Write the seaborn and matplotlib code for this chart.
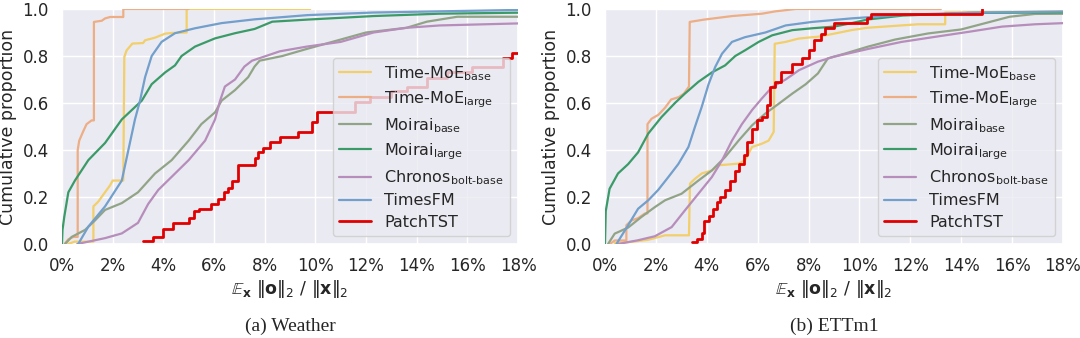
import matplotlib
matplotlib.use("Agg")
import matplotlib.pyplot as plt
import seaborn as sns
import pandas as pd

# ---------------- data (x in %, y = cumulative proportion) ----------------
models = ["Time-MoE$_\\mathrm{base}$", "Time-MoE$_\\mathrm{large}$", "Moirai$_\\mathrm{base}$",
          "Moirai$_\\mathrm{large}$", "Chronos$_\\mathrm{bolt‐base}$", "TimesFM", "PatchTST"]
colors = ["#F2CF6A", "#EDAE85", "#92A487", "#3B9B68", "#B68DBB", "#729FCB", "#E00000"]

x_ticks = [0, 2, 4, 6, 8, 10, 12, 14, 16, 18]
x_tick_labels = ["0%", "2%", "4%", "6%", "8%", "10%", "12%", "14%", "16%", "18%"]
y_ticks = [0.0, 0.2, 0.4, 0.6, 0.8, 1.0]
panel_titles = ["(a) Weather", "(b) ETTm1"]

# ---- Weather ----
w_moe_base_x = [0.24, 0.5, 1.24, 1.24, 1.43, 1.63, 1.9, 2.0, 2.42, 2.46, 2.55, 2.78, 3.2, 3.28, 3.67, 4.07, 4.33, 4.92, 4.92, 9.8]
w_moe_base_y = [0.0, 0.01, 0.01, 0.16, 0.18, 0.21, 0.25, 0.27, 0.27, 0.796, 0.824, 0.853, 0.855, 0.867, 0.878, 0.895, 0.898, 0.90, 1.0, 1.0]
w_moe_large_x = [0.1, 0.25, 0.45, 0.62, 0.62, 0.68, 0.84, 0.97, 1.17, 1.26, 1.26, 1.57, 1.7, 1.9, 2.42, 2.42, 5.0]
w_moe_large_y = [0.0, 0.02, 0.03, 0.03, 0.40, 0.44, 0.48, 0.51, 0.526, 0.526, 0.945, 0.95, 0.96, 0.966, 0.966, 1.0, 1.0]
w_moirai_base_x = [0.12, 0.38, 0.91, 1.3, 1.7, 2.36, 3.0, 3.67, 4.33, 5.0, 5.5, 6.04, 6.3, 6.83, 7.35, 7.6, 7.8, 8.7, 9.66, 11.0, 12.0, 13.6, 14.4, 15.6, 18.5]
w_moirai_base_y = [0.0, 0.03, 0.06, 0.10, 0.145, 0.174, 0.22, 0.30, 0.357, 0.44, 0.51, 0.56, 0.61, 0.655, 0.71, 0.755, 0.78, 0.80, 0.83, 0.87, 0.90, 0.92, 0.946, 0.967, 0.967]
w_moirai_large_x = [0.0, 0.02, 0.09, 0.25, 0.51, 1.04, 1.7, 2.36, 3.15, 3.54, 4.07, 4.46, 4.72, 5.25, 6.04, 6.83, 7.6, 8.3, 9.7, 12.3, 14.9, 18.5]
w_moirai_large_y = [0.0, 0.06, 0.116, 0.22, 0.27, 0.357, 0.43, 0.53, 0.61, 0.68, 0.73, 0.76, 0.80, 0.84, 0.875, 0.897, 0.915, 0.946, 0.955, 0.97, 0.98, 0.985]
w_chronos_x = [0.6, 1.7, 2.36, 3.0, 3.4, 3.8, 4.33, 5.0, 5.65, 6.04, 6.24, 6.43, 6.83, 7.2, 7.5, 8.6, 9.66, 11.0, 12.3, 13.6, 14.9, 18.5]
w_chronos_y = [0.0, 0.025, 0.045, 0.09, 0.17, 0.23, 0.286, 0.357, 0.44, 0.53, 0.61, 0.67, 0.70, 0.755, 0.78, 0.82, 0.84, 0.86, 0.90, 0.92, 0.93, 0.94]
w_timesfm_x = [0.64, 1.04, 1.7, 2.36, 2.62, 2.88, 3.08, 3.28, 3.54, 3.93, 4.46, 5.25, 6.3, 7.6, 9.7, 12.3, 14.9, 18.5]
w_timesfm_y = [0.0, 0.074, 0.16, 0.27, 0.40, 0.53, 0.61, 0.71, 0.80, 0.86, 0.897, 0.918, 0.94, 0.956, 0.974, 0.985, 0.99, 0.997]
w_patchtst_x = [3.21, 3.6, 4.0, 4.4, 5.0, 5.2, 5.4, 5.9, 6.17, 6.4, 6.56, 6.7, 6.96, 7.62, 7.75, 7.95, 8.2, 8.6, 9.33, 9.86, 10.08, 11.57, 12.16, 13.0, 13.6, 14.4, 15.2, 16.2, 17.4, 17.75, 18.5]
w_patchtst_y = [0.013, 0.03, 0.063, 0.09, 0.11, 0.14, 0.15, 0.17, 0.19, 0.22, 0.24, 0.27, 0.336, 0.366, 0.39, 0.41, 0.435, 0.457, 0.478, 0.52, 0.563, 0.606, 0.627, 0.65, 0.67, 0.705, 0.73, 0.755, 0.79, 0.814, 0.814]

# ---- ETTm1 ----
e_moe_base_x = [0.38, 1.04, 1.7, 2.36, 3.3, 3.34, 3.54, 3.8, 4.2, 4.46, 5.25, 5.5, 5.78, 6.17, 6.43, 6.63, 6.67, 7.1, 7.6, 8.14, 8.37, 9.0, 9.68, 10.3, 11.1, 12.3, 13.37, 13.37, 18.5]
e_moe_base_y = [0.004, 0.009, 0.018, 0.037, 0.037, 0.257, 0.278, 0.30, 0.313, 0.335, 0.342, 0.356, 0.413, 0.427, 0.44, 0.477, 0.852, 0.86, 0.874, 0.88, 0.882, 0.895, 0.91, 0.92, 0.926, 0.935, 0.935, 0.985, 0.99]
e_moe_large_x = [0.2, 0.38, 0.84, 0.84, 1.04, 1.3, 1.57, 1.67, 1.67, 1.83, 2.1, 2.36, 2.6, 2.9, 3.1, 3.3, 3.33, 3.9, 5.0, 6.17, 6.7, 7.5, 13.2]
e_moe_large_y = [0.0, 0.015, 0.015, 0.08, 0.10, 0.11, 0.13, 0.13, 0.51, 0.533, 0.55, 0.58, 0.615, 0.625, 0.64, 0.67, 0.945, 0.955, 0.97, 0.98, 0.99, 1.0, 1.0]
e_moirai_base_x = [0.12, 0.38, 0.91, 1.43, 1.96, 2.36, 3.01, 3.67, 4.2, 4.72, 5.25, 5.78, 6.3, 6.83, 7.36, 7.89, 8.37, 8.76, 9.42, 10.34, 11.4, 12.7, 14.0, 14.95, 15.9, 16.9, 18.5]
e_moirai_base_y = [0.0, 0.044, 0.07, 0.115, 0.157, 0.186, 0.214, 0.27, 0.313, 0.37, 0.44, 0.505, 0.555, 0.597, 0.64, 0.68, 0.726, 0.79, 0.81, 0.84, 0.87, 0.896, 0.913, 0.94, 0.967, 0.979, 0.98]
e_moirai_large_x = [0.0, 0.03, 0.18, 0.51, 0.91, 1.3, 1.7, 2.22, 2.75, 3.14, 3.67, 4.2, 4.72, 5.12, 5.5, 6.04, 6.57, 7.36, 8.14, 9.0, 9.7, 10.3, 11.7, 14.3, 18.5]
e_moirai_large_y = [0.0, 0.14, 0.235, 0.30, 0.34, 0.39, 0.47, 0.54, 0.60, 0.64, 0.69, 0.73, 0.76, 0.80, 0.824, 0.86, 0.888, 0.91, 0.918, 0.925, 0.94, 0.955, 0.972, 0.983, 0.986]
e_chronos_x = [0.51, 1.3, 1.96, 2.62, 3.14, 3.67, 4.2, 4.6, 4.99, 5.38, 5.78, 6.17, 6.57, 7.1, 7.63, 8.37, 9.0, 10.34, 11.66, 13.0, 14.3, 15.6, 16.9, 18.5]
e_chronos_y = [0.0, 0.016, 0.033, 0.072, 0.143, 0.214, 0.285, 0.356, 0.44, 0.51, 0.57, 0.62, 0.668, 0.70, 0.74, 0.776, 0.797, 0.83, 0.86, 0.882, 0.903, 0.925, 0.935, 0.942]
e_timesfm_x = [0.45, 0.91, 1.3, 1.7, 2.09, 2.49, 2.88, 3.28, 3.54, 3.8, 4.07, 4.33, 4.6, 4.99, 5.5, 6.3, 7.1, 8.14, 9.68, 11.66, 14.3, 18.5]
e_timesfm_y = [0.0, 0.08, 0.15, 0.186, 0.23, 0.285, 0.34, 0.413, 0.50, 0.583, 0.68, 0.753, 0.81, 0.86, 0.88, 0.90, 0.93, 0.945, 0.96, 0.975, 0.984, 0.99]
e_patchtst_x = [3.4, 3.6, 3.8, 3.9, 4.1, 4.26, 4.4, 4.5, 4.72, 4.9, 5.1, 5.25, 5.45, 5.58, 5.78, 5.97, 6.17, 6.37, 6.5, 6.7, 6.9, 7.36, 7.75, 8.0, 8.2, 8.5, 8.64, 9.0, 10.3, 10.45, 14.8]
e_patchtst_y = [0.01, 0.02, 0.045, 0.10, 0.12, 0.15, 0.18, 0.20, 0.23, 0.27, 0.31, 0.34, 0.377, 0.434, 0.49, 0.526, 0.54, 0.59, 0.668, 0.69, 0.73, 0.767, 0.79, 0.824, 0.867, 0.895, 0.918, 0.94, 0.96, 0.98, 1.0]

weather = [(w_moe_base_x, w_moe_base_y), (w_moe_large_x, w_moe_large_y),
           (w_moirai_base_x, w_moirai_base_y), (w_moirai_large_x, w_moirai_large_y),
           (w_chronos_x, w_chronos_y), (w_timesfm_x, w_timesfm_y), (w_patchtst_x, w_patchtst_y)]
ettm1 = [(e_moe_base_x, e_moe_base_y), (e_moe_large_x, e_moe_large_y),
         (e_moirai_base_x, e_moirai_base_y), (e_moirai_large_x, e_moirai_large_y),
         (e_chronos_x, e_chronos_y), (e_timesfm_x, e_timesfm_y), (e_patchtst_x, e_patchtst_y)]

# ---------------- plotting ----------------
sns.set_theme(style="darkgrid")
plt.rcParams["font.family"] = ["DejaVu Sans"]
plt.rcParams["mathtext.fontset"] = "dejavusans"

fig = plt.figure(figsize=(10.8, 3.38), dpi=100)
W, H = 1080, 338
axes_px = [(62, 9, 456, 235), (605, 9, 458, 235)]

for i, (panel, (l, t, w, h)) in enumerate(zip([weather, ettm1], axes_px)):
    ax = fig.add_axes([l / W, (H - t - h) / H, w / W, h / H])
    for j, ((xs, ys), name, col) in enumerate(zip(panel, models, colors)):
        df = pd.DataFrame({"x": xs, "y": ys})
        is_red = name == "PatchTST"
        sns.lineplot(data=df, x="x", y="y", ax=ax, color=col, label=name,
                     estimator=None, sort=False, linewidth=2.0 if is_red else 1.6,
                     drawstyle="steps-post" if is_red else "default", zorder=3 + j)
    ax.set_xlim(0, 18)
    ax.set_ylim(0, 1.0)
    ax.set_xticks(x_ticks)
    ax.set_xticklabels(x_tick_labels, fontsize=12)
    ax.set_yticks(y_ticks)
    ax.set_yticklabels([f"{v:.1f}" for v in y_ticks], fontsize=12)
    ax.set_xlabel(r"$\mathbb{E}_{\mathbf{x}}\ \|\mathbf{o}\|_2\ /\ \|\mathbf{x}\|_2$", fontsize=12.5, labelpad=2)
    ax.set_ylabel("Cumulative proportion", fontsize=12.5, labelpad=4)
    leg = ax.legend(loc="lower right", fontsize=11.5, frameon=True, labelspacing=0.4)
    leg.set_zorder(50)
    fig.text((l + w / 2) / W, 1 - 326 / H, panel_titles[i], ha="center", va="center",
             fontsize=14, family="Liberation Serif")

fig.savefig("out.png", dpi=100)
